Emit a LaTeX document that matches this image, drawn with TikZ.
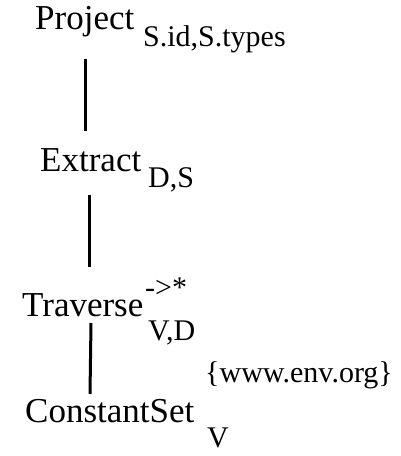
\documentclass[tikz,border=0pt]{standalone}
\usepackage{fontspec}
\setmainfont{Liberation Serif}
\begin{document}
\begin{tikzpicture}[x=1pt,y=1pt,
  op/.style={inner sep=0pt, anchor=base west, font=\fontsize{35}{40}\selectfont},
  sub/.style={inner sep=0pt, anchor=base west, font=\fontsize{30}{34}\selectfont},
  edge/.style={line width=3pt}]
\useasboundingbox (0,0) rectangle (401,456);
% operator names
\node[op] (project) at (35,426) {Project};
\node[op] (extract) at (40,284) {Extract};
\node[op] (traverse) at (22,139) {Traverse};
\node[op] (const) at (25,33) {ConstantSet};
% parameters
\node[sub] (pparam) at (143,409) {S.id,S.types};
\node[sub] (eparam) at (148,268) {D,S};
\node[sub] (tsup) at (145,158) {->*};
\node[sub] (tsub) at (148,115) {V,D};
\node[sub] (csup) at (205,74) {\{www.env.org\}};
\node[sub] (csub) at (207,9) {V};
% tree edges
\draw[edge] ([shift={(50,-29)}]project.base west) -- ([shift={(45,41)}]extract.base west);
\draw[edge] ([shift={(49,-23)}]extract.base west) -- ([shift={(67,50)}]traverse.base west);
\draw[edge] ([shift={(69,-6)}]traverse.base west) -- ([shift={(65,29)}]const.base west);
\end{tikzpicture}
\end{document}
